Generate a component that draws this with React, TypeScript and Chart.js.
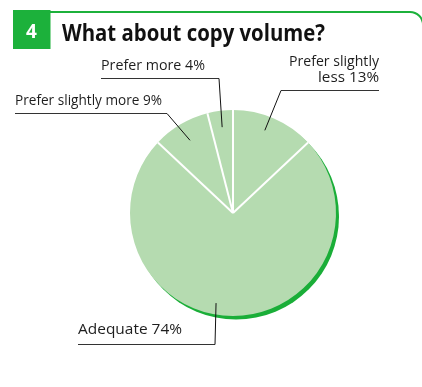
import React, { useEffect, useRef } from "react";
import { Chart, registerables } from "chart.js";

Chart.register(...registerables);

// ---- data ----
const categories = ["Prefer slightly less", "Adequate", "Prefer slightly more", "Prefer more"];
const values = [13, 74, 9, 4];
const labelLines = [["Prefer slightly", "less 13%"], ["Adequate 74%"], ["Prefer slightly more 9%"], ["Prefer more 4%"]];
const titleNumber = "4";
const titleText = "What about copy volume?";

// ---- styling / layout ----
const GREEN = "#1cb13b";
const SHADOW = "#1aae38";
const FILL = "#b5dbb0";
const TEXT = "#1e1e1e";
const FONT = "'Open Sans', 'Noto Sans', sans-serif";

// label layout: align, anchor x, baselines, target widths, underline, leader (fraction of slice angle, fraction of radius)
const labelLayout = [
  { align: "right", x: 379, baselines: [66, 81.5], widths: [90, 61], ul: [281, 379, 90], lead: "left", t: 0.45, rf: 0.86 },
  { align: "left", x: 78, baselines: [334], widths: [104], ul: [78, 215, 344], lead: "right", t: 0.54, rf: 0.89 },
  { align: "left", x: 15, baselines: [105], widths: [147], ul: [15, 167, 113], lead: "right", t: 0.5, rf: 0.82 },
  { align: "left", x: 101, baselines: [70], widths: [104], ul: [101, 219, 78], lead: "right", t: 0.5, rf: 0.84 },
];

function fitText(ctx: CanvasRenderingContext2D, text: string, x: number, y: number, w: number, align: string) {
  const m = ctx.measureText(text).width;
  const s = w / m;
  ctx.save();
  ctx.translate(x, y);
  ctx.scale(s, 1);
  ctx.textAlign = align as CanvasTextAlign;
  ctx.fillText(text, 0, 0);
  ctx.restore();
}

const decorPlugin = {
  id: "decor",
  beforeDatasetsDraw(chart: any) {
    const ctx: CanvasRenderingContext2D = chart.ctx;
    const arc = chart.getDatasetMeta(0).data[0];
    if (!arc) return;
    ctx.save();
    ctx.fillStyle = SHADOW;
    ctx.beginPath();
    ctx.arc(arc.x + 3, arc.y + 3.5, arc.outerRadius, 0, Math.PI * 2);
    ctx.fill();
    ctx.restore();
  },
  afterDatasetsDraw(chart: any) {
    const ctx: CanvasRenderingContext2D = chart.ctx;
    const meta = chart.getDatasetMeta(0);
    ctx.save();
    ctx.strokeStyle = "#ffffff";
    ctx.lineWidth = 2;
    ctx.lineCap = "butt";
    meta.data.forEach((el: any) => {
      const a = el.startAngle;
      ctx.beginPath();
      ctx.moveTo(el.x, el.y);
      ctx.lineTo(el.x + Math.cos(a) * el.outerRadius, el.y + Math.sin(a) * el.outerRadius);
      ctx.stroke();
    });
    ctx.restore();
  },
  afterDraw(chart: any) {
    const ctx: CanvasRenderingContext2D = chart.ctx;
    ctx.save();
    // frame line
    ctx.strokeStyle = GREEN;
    ctx.lineWidth = 2;
    ctx.beginPath();
    ctx.moveTo(13, 12);
    ctx.lineTo(410, 12);
    ctx.arcTo(423, 12, 423, 25, 13);
    ctx.lineTo(423, 387);
    ctx.stroke();
    // number box
    ctx.fillStyle = GREEN;
    ctx.fillRect(13, 10, 37.5, 39);
    ctx.fillStyle = "#ffffff";
    ctx.font = `bold 19px ${FONT}`;
    ctx.textBaseline = "alphabetic";
    ctx.textAlign = "center";
    ctx.fillText(titleNumber, 31.5, 38);
    // title
    ctx.fillStyle = "#111111";
    ctx.font = `bold 23px ${FONT}`;
    fitText(ctx, titleText, 62, 41, 263, "left");

    // labels
    const meta = chart.getDatasetMeta(0);
    ctx.font = `15px ${FONT}`;
    labelLayout.forEach((L, i) => {
      const el: any = meta.data[i];
      if (!el) return;
      ctx.fillStyle = TEXT;
      labelLines[i].forEach((line, j) => {
        fitText(ctx, line, L.x, L.baselines[j], L.widths[j], L.align);
      });
      // underline
      ctx.strokeStyle = "#333333";
      ctx.lineWidth = 1;
      ctx.beginPath();
      ctx.moveTo(L.ul[0], L.ul[2] + 0.5);
      ctx.lineTo(L.ul[1], L.ul[2] + 0.5);
      ctx.stroke();
      // leader
      const a = el.startAngle + (el.endAngle - el.startAngle) * L.t;
      const px = el.x + Math.cos(a) * el.outerRadius * L.rf;
      const py = el.y + Math.sin(a) * el.outerRadius * L.rf;
      const sx = L.lead === "left" ? L.ul[0] : L.ul[1];
      ctx.strokeStyle = "#111111";
      ctx.beginPath();
      ctx.moveTo(sx, L.ul[2] + 0.5);
      ctx.lineTo(px, py);
      ctx.stroke();
    });
    ctx.restore();
  },
};

export default function App() {
  const ref = useRef<HTMLCanvasElement | null>(null);
  useEffect(() => {
    if (!ref.current) return;
    const chart = new Chart(ref.current, {
      type: "pie",
      data: {
        labels: categories,
        datasets: [
          {
            data: values,
            backgroundColor: values.map(() => FILL),
            borderWidth: 0,
            radius: 103,
          } as any,
        ],
      },
      options: {
        responsive: false,
        animation: false,
        layout: { padding: { left: 44, right: 0, top: 39, bottom: 0 } },
        plugins: {
          legend: { display: false },
          tooltip: { enabled: false },
          title: { display: false },
        },
        events: [],
      },
      plugins: [decorPlugin],
    });
    return () => chart.destroy();
  }, []);
  return (
    <div style={{ position: "absolute", left: 0, top: 0, width: 422, height: 387, background: "#fff", overflow: "hidden" }}>
      <canvas ref={ref} width={422} height={387} style={{ display: "block" }} />
    </div>
  );
}
